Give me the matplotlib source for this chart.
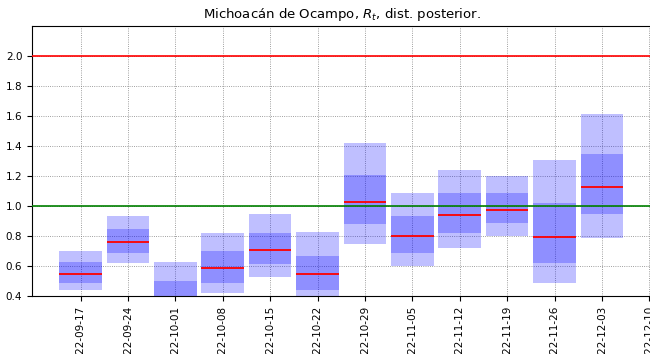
import numpy as np
import pandas as pd
import matplotlib
matplotlib.use("Agg")
import matplotlib.pyplot as plt
import matplotlib.dates as mdates

# weekly posterior summaries of R_t
weeks = ["2022-09-17", "2022-09-24", "2022-10-01", "2022-10-08", "2022-10-15", "2022-10-22",
         "2022-10-29", "2022-11-05", "2022-11-12", "2022-11-19", "2022-11-26", "2022-12-03"]
q05 = [0.44, 0.62, 0.20, 0.42, 0.53, 0.38, 0.75, 0.60, 0.72, 0.80, 0.49, 0.79]
q25 = [0.49, 0.69, 0.28, 0.49, 0.615, 0.44, 0.88, 0.69, 0.82, 0.885, 0.62, 0.945]
q50 = [0.55, 0.76, 0.38, 0.585, 0.71, 0.545, 1.03, 0.80, 0.94, 0.975, 0.795, 1.125]
q75 = [0.625, 0.845, 0.50, 0.70, 0.82, 0.67, 1.21, 0.935, 1.085, 1.085, 1.02, 1.35]
q95 = [0.70, 0.935, 0.63, 0.82, 0.945, 0.825, 1.42, 1.09, 1.24, 1.20, 1.31, 1.615]
xticks = weeks + ["2022-12-10"]

dates = pd.to_datetime(weeks)
q05, q25, q50, q75, q95 = map(np.array, (q05, q25, q50, q75, q95))
w = 6.3

fig = plt.figure(figsize=(6.5, 3.54), dpi=100)
ax = fig.add_axes([32 / 650, 1 - 296 / 354, 619 / 650, 270 / 354])

ax.bar(dates, q95 - q05, bottom=q05, width=w, color="blue", alpha=0.25, zorder=2)
ax.bar(dates, q75 - q25, bottom=q25, width=w, color="blue", alpha=0.25, zorder=2)
half = pd.Timedelta(days=w / 2)
ax.hlines(q50, dates - half, dates + half, color="red", lw=1.3, zorder=3)

ax.axhline(2.0, color="red", lw=1.2, zorder=3)
ax.axhline(1.0, color="green", lw=1.2, zorder=3)

ax.set_xlim(pd.Timestamp("2022-09-09 20:00"), pd.Timestamp("2022-12-10 06:00"))
ax.set_ylim(0.4, 2.2)
ax.set_yticks(np.arange(0.4, 2.01, 0.2))
ax.set_xticks(pd.to_datetime(xticks))
ax.xaxis.set_major_formatter(mdates.DateFormatter("%Y-%m-%d"))
ax.tick_params(axis="x", rotation=90, labelsize=7.5)
ax.tick_params(axis="y", labelsize=7.5)
ax.grid(True, ls=":", color="gray", lw=0.6, zorder=0)
ax.set_axisbelow(True)
ax.set_title("Michoacán de Ocampo, $R_t$, dist. posterior.", fontsize=9.5)

fig.savefig("out.png", dpi=100)
